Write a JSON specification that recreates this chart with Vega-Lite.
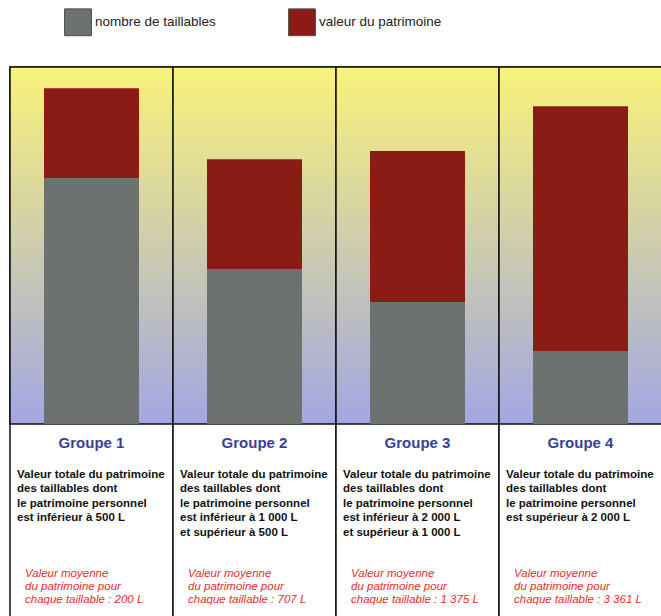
{
  "$schema": "https://vega.github.io/schema/vega-lite/v6.json",
  "width": 661,
  "height": 616,
  "padding": 0,
  "autosize": {"type": "none"},
  "background": "white",
  "config": {"view": {"stroke": null}, "font": "Liberation Sans"},
  "datasets": {
    "segments": [
      {"groupe": "Groupe 1", "serie": "nombre de taillables", "valeur": 68.9},
      {"groupe": "Groupe 1", "serie": "valeur du patrimoine", "valeur": 25.2},
      {"groupe": "Groupe 2", "serie": "nombre de taillables", "valeur": 43.4},
      {"groupe": "Groupe 2", "serie": "valeur du patrimoine", "valeur": 30.8},
      {"groupe": "Groupe 3", "serie": "nombre de taillables", "valeur": 34.2},
      {"groupe": "Groupe 3", "serie": "valeur du patrimoine", "valeur": 42.3},
      {"groupe": "Groupe 4", "serie": "nombre de taillables", "valeur": 20.4},
      {"groupe": "Groupe 4", "serie": "valeur du patrimoine", "valeur": 68.6}
    ],
    "groupes": [
      {"groupe": "Groupe 1", "description": "Valeur totale du patrimoine\ndes taillables dont\nle patrimoine personnel\nest inférieur à 500 L", "moyenne": "Valeur moyenne\ndu patrimoine pour\nchaque taillable : 200 L"},
      {"groupe": "Groupe 2", "description": "Valeur totale du patrimoine\ndes taillables dont\nle patrimoine personnel\nest inférieur à 1 000 L\net supérieur à 500 L", "moyenne": "Valeur moyenne\ndu patrimoine pour\nchaque taillable : 707 L"},
      {"groupe": "Groupe 3", "description": "Valeur totale du patrimoine\ndes taillables dont\nle patrimoine personnel\nest inférieur à 2 000 L\net supérieur à 1 000 L", "moyenne": "Valeur moyenne\ndu patrimoine pour\nchaque taillable : 1 375 L"},
      {"groupe": "Groupe 4", "description": "Valeur totale du patrimoine\ndes taillables dont\nle patrimoine personnel\nest supérieur à 2 000 L", "moyenne": "Valeur moyenne\ndu patrimoine pour\nchaque taillable : 3 361 L"}
    ]
  },
  "layer": [
    {
      "data": {"name": "groupes"},
      "mark": {"type": "rect", "fill": "white", "stroke": "#111111", "strokeWidth": 1.5},
      "encoding": {
        "x": {"field": "groupe", "type": "nominal", "axis": null, "scale": {"type": "band", "range": [10, 662], "paddingInner": 0, "paddingOuter": 0}},
        "y": {"datum": 100, "type": "quantitative", "axis": null, "scale": {"domain": [-53.8, 118.8], "nice": false, "zero": false}},
        "y2": {"datum": -70}
      }
    },
    {
      "data": {"name": "groupes"},
      "mark": {
        "type": "rect",
        "stroke": "#111111",
        "strokeWidth": 1.5,
        "fill": {
          "gradient": "linear", "x1": 0, "y1": 0, "x2": 0, "y2": 1,
          "stops": [
            {"offset": 0, "color": "#f9f279"},
            {"offset": 1, "color": "#a2a7e2"}
          ]
        }
      },
      "encoding": {
        "x": {"field": "groupe", "type": "nominal", "axis": null},
        "y": {"datum": 100, "type": "quantitative", "axis": null},
        "y2": {"datum": 0}
      }
    },
    {
      "data": {"name": "segments"},
      "mark": {"type": "bar", "width": 95},
      "encoding": {
        "x": {"field": "groupe", "type": "nominal", "axis": null},
        "y": {"field": "valeur", "type": "quantitative", "axis": null, "stack": "zero"},
        "order": {"field": "serie", "sort": "ascending"},
        "color": {
          "field": "serie", "type": "nominal",
          "scale": {"domain": ["nombre de taillables", "valeur du patrimoine"], "range": ["#6d7270", "#8a1b15"]},
          "legend": {
            "title": null,
            "orient": "none",
            "legendX": 64,
            "legendY": 8,
            "direction": "horizontal",
            "padding": 0,
            "symbolType": "square",
            "symbolSize": 720,
            "symbolStrokeColor": "#4a4e4c",
            "symbolStrokeWidth": 1,
            "symbolOpacity": 1,
            "labelFont": "Liberation Sans",
            "labelFontSize": 13.5,
            "labelColor": "#222222",
            "labelOffset": 3,
            "columnPadding": 70,
            "labelLimit": 300
          }
        }
      }
    },
    {
      "data": {"name": "groupes"},
      "mark": {"type": "text", "font": "Liberation Sans", "fontSize": 15, "fontWeight": "bold", "color": "#3a3e98", "baseline": "middle", "align": "center", "dy": 19},
      "encoding": {
        "x": {"field": "groupe", "type": "nominal", "axis": null},
        "y": {"datum": 0, "type": "quantitative"},
        "text": {"field": "groupe", "type": "nominal"}
      }
    },
    {
      "data": {"name": "groupes"},
      "mark": {"type": "text", "font": "Liberation Sans", "fontSize": 11.5, "fontWeight": "bold", "color": "#111111", "baseline": "top", "align": "left", "dx": 7, "dy": 45, "lineBreak": "\n", "lineHeight": 14.5},
      "encoding": {
        "x": {"field": "groupe", "type": "nominal", "axis": null, "bandPosition": 0},
        "y": {"datum": 0, "type": "quantitative"},
        "text": {"field": "description", "type": "nominal"}
      }
    },
    {
      "data": {"name": "groupes"},
      "mark": {"type": "text", "font": "Liberation Sans", "fontSize": 11.5, "fontStyle": "italic", "color": "#f02a2a", "baseline": "top", "align": "left", "dx": 15, "dy": 144, "lineBreak": "\n", "lineHeight": 13},
      "encoding": {
        "x": {"field": "groupe", "type": "nominal", "axis": null, "bandPosition": 0},
        "y": {"datum": 0, "type": "quantitative"},
        "text": {"field": "moyenne", "type": "nominal"}
      }
    }
  ]
}
